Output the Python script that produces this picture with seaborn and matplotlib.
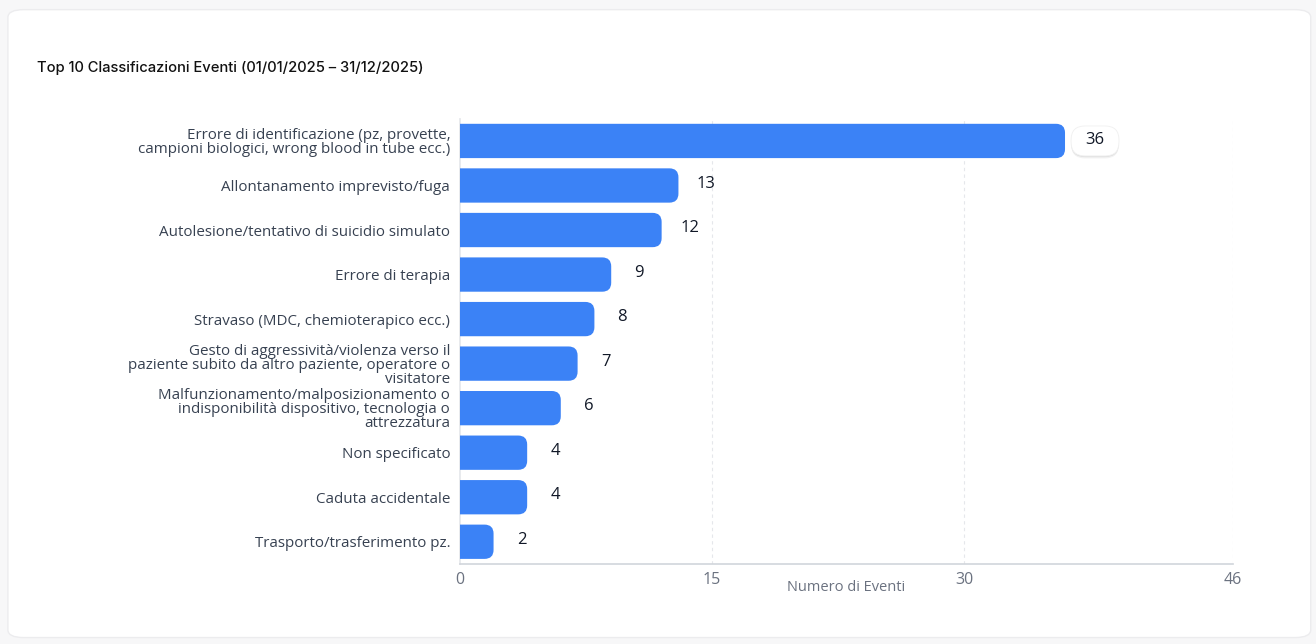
import matplotlib
matplotlib.use("Agg")
import matplotlib.pyplot as plt
import seaborn as sns
import pandas as pd
from matplotlib.patches import FancyBboxPatch

categories = [
    "Errore di identificazione (pz, provette,\ncampioni biologici, wrong blood in tube ecc.)",
    "Allontanamento imprevisto/fuga",
    "Autolesione/tentativo di suicidio simulato",
    "Errore di terapia",
    "Stravaso (MDC, chemioterapico ecc.)",
    "Gesto di aggressività/violenza verso il\npaziente subito da altro paziente, operatore o\nvisitatore",
    "Malfunzionamento/malposizionamento o\nindisponibilità dispositivo, tecnologia o\nattrezzatura",
    "Non specificato",
    "Caduta accidentale",
    "Trasporto/trasferimento pz.",
]
values = [36, 13, 12, 9, 8, 7, 6, 4, 4, 2]
x_ticks = [0, 15, 30, 46]
title = "Top 10 Classificazioni Eventi (01/01/2025 \u2013 31/12/2025)"
x_label = "Numero di Eventi"

df = pd.DataFrame({"cat": categories, "val": values})

sns.set_theme(style="white")
plt.rcParams["font.family"] = ["Open Sans", "DejaVu Sans"]

BLUE = "#3b82f6"
fig = plt.figure(figsize=(13.16, 6.44), dpi=100)
fig.patch.set_facecolor("#f7f7f8")
card = FancyBboxPatch((0.006, 0.01), 0.99, 0.975, boxstyle="round,pad=0,rounding_size=0.012",
                      transform=fig.transFigure, facecolor="white", edgecolor="#ececee",
                      linewidth=1.0, zorder=-10)
fig.add_artist(card)

ax = fig.add_axes([0.3495, 0.1242, 0.5875, 0.6915])
ax.set_zorder(1)
ax.set_facecolor("none")
sns.barplot(data=df, x="val", y="cat", color=BLUE, width=0.77, ax=ax, saturation=1, zorder=3)

ax.set_xlim(0, 46)
ax.set_xticks(x_ticks)
ax.set_xticklabels([str(t) for t in x_ticks], fontsize=11.5, color="#6b7280")

fig.canvas.draw()
bb = ax.get_window_extent()
px_per_x = bb.width / 46.0
px_per_y = bb.height / len(categories)
r_px = 9.0
rx = r_px / px_per_x
aspect = px_per_x / px_per_y

bars = list(ax.patches)
for p in bars:
    x0, y0 = p.get_x(), p.get_y()
    w, h = p.get_width(), p.get_height()
    p.remove()
    rb = FancyBboxPatch((x0 - rx, y0), w + rx, h, boxstyle=f"round,pad=0,rounding_size={rx}",
                        mutation_aspect=aspect, facecolor=BLUE, edgecolor="none", zorder=3)
    ax.add_patch(rb)
    rb.set_clip_path(ax.patch)

off = 28 / px_per_x
for i, v in enumerate(values):
    if i == 0:
        bw, bh = 48 / px_per_x, 30 / px_per_y
        cx = v + off + 2 / px_per_x
        for dx, dy, a in [(0, 2.5, 0.05), (0, 1.2, 0.07)]:
            sh = FancyBboxPatch((cx - bw / 2 + dx / px_per_x, i - bh / 2 + dy / px_per_y), bw, bh,
                                boxstyle=f"round,pad=0,rounding_size={14 / px_per_x}",
                                mutation_aspect=aspect, facecolor="black", alpha=a,
                                edgecolor="none", zorder=4)
            ax.add_patch(sh)
        box = FancyBboxPatch((cx - bw / 2, i - bh / 2), bw, bh,
                             boxstyle=f"round,pad=0,rounding_size={14 / px_per_x}",
                             mutation_aspect=aspect, facecolor="white", edgecolor="#f0f0f0",
                             linewidth=0.6, zorder=4.5)
        ax.add_patch(box)
        ax.text(cx, i - 0.02, str(v), ha="center", va="center", fontsize=12,
                color="#111827", zorder=5)
    else:
        ax.text(v + off, i - 0.04, str(v), ha="center", va="center", fontsize=12,
                color="#111827", zorder=5)

ax.set_yticks(range(len(categories)))
ax.set_yticklabels(categories, fontsize=10.9, color="#374151", linespacing=0.92)
ax.tick_params(axis="y", length=4, color="#e5e7eb", pad=3)
ax.tick_params(axis="x", length=0, pad=6)
ax.set_ylabel("")
ax.set_xlabel(x_label, fontsize=10.5, color="#6b7280", labelpad=-6)

for t in x_ticks[1:]:
    ax.axvline(t, color="#e5e7eb", linestyle=(0, (3, 3)), linewidth=0.8, zorder=1)

for s in ["top", "right"]:
    ax.spines[s].set_visible(False)
ax.spines["left"].set_color("#e5e7eb")
ax.spines["bottom"].set_color("#d1d5db")
ax.spines["bottom"].set_linewidth(1.2)

fig.text(0.028, 0.894, title, fontsize=10.6, color="#111111", family=["Inter", "DejaVu Sans"],
         fontweight="medium", ha="left", va="center")

fig.savefig("out.png", dpi=100, facecolor=fig.get_facecolor())
